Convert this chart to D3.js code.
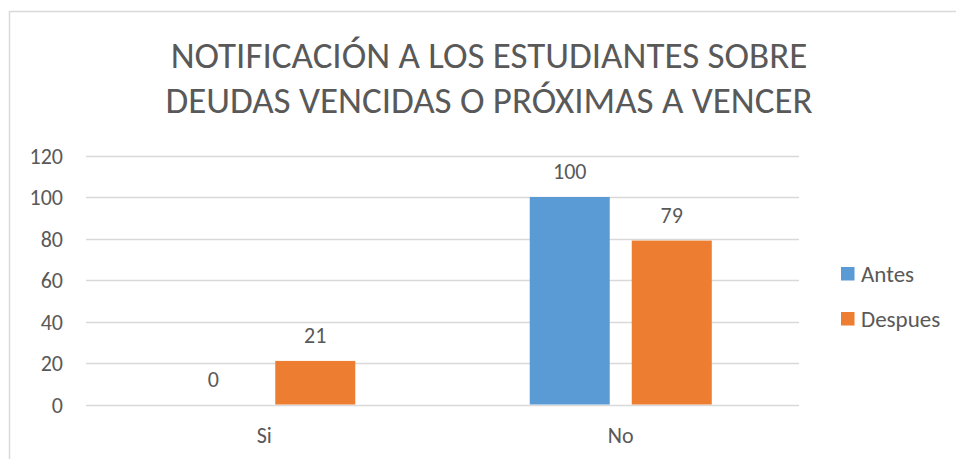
<!DOCTYPE html>
<html>
<head>
<meta charset="utf-8">
<script src="https://cdn.jsdelivr.net/npm/d3@7"></script>
<style>
  html, body { margin: 0; padding: 0; background: #fff; }
  svg { display: block; }
  text { font-family: Carlito, Calibri, Lato, "Open Sans", sans-serif; fill: #595959; }
</style>
</head>
<body>
<svg id="chart" width="956" height="459"></svg>
<script>
// Chart data
const categories = ["Si", "No"];
const seriesNames = ["Antes", "Despues"];
const antes = [0, 100];
const despues = [21, 79];
const yTicks = [0, 20, 40, 60, 80, 100, 120];
const titleLines = ["NOTIFICACIÓN A LOS ESTUDIANTES SOBRE", "DEUDAS VENCIDAS O PRÓXIMAS A VENCER"];

const colors = { Antes: "#5B9BD5", Despues: "#ED7D31" };
const values = { Antes: antes, Despues: despues };
const fontStack = 'Carlito, Calibri, Lato, "Open Sans", sans-serif';

const svg = d3.select("#chart");
const W = 956, H = 459;

// Outer chart frame
svg.append("rect")
  .attr("x", 9.5).attr("y", 11.5)
  .attr("width", W + 20).attr("height", H + 20)
  .attr("fill", "none").attr("stroke", "#D9D9D9").attr("stroke-width", 1.5);

// Title
svg.append("g").selectAll("text").data(titleLines).join("text")
  .attr("x", 489)
  .attr("y", (d, i) => 68 + i * 45)
  .attr("text-anchor", "middle")
  .attr("font-size", 37)
  .attr("font-weight", 300)
  .text(d => d);

// Scales
const plot = { left: 86, right: 799, top: 155.5, bottom: 404.5 };
const x0 = d3.scaleBand().domain(categories).range([plot.left, plot.right]);
const x1 = d3.scaleBand().domain(seriesNames).range([0, x0.bandwidth()])
  .paddingInner(0.2157).paddingOuter(0.855);
const y = d3.scaleLinear().domain([0, 120]).range([plot.bottom, plot.top]);

// Gridlines
svg.append("g").selectAll("line").data(yTicks).join("line")
  .attr("x1", plot.left).attr("x2", plot.right)
  .attr("y1", d => Math.round(y(d)) + 0.5).attr("y2", d => Math.round(y(d)) + 0.5)
  .attr("stroke", "#D9D9D9").attr("stroke-width", 1.5);

// Y axis labels
const yAxis = d3.axisLeft(y).tickValues(yTicks).tickSize(0).tickPadding(0);
const gy = svg.append("g").attr("transform", "translate(63,0)").call(yAxis);
gy.select(".domain").remove();
gy.selectAll("text").attr("font-size", 22).attr("fill", "#595959")
  .attr("font-family", fontStack)
  .attr("dy", "0.36em");

// X axis labels
const xAxis = d3.axisBottom(x0).tickSize(0).tickPadding(0);
const gx = svg.append("g").attr("transform", "translate(0,443)").call(xAxis);
gx.select(".domain").remove();
gx.selectAll("text").attr("font-size", 22).attr("fill", "#595959")
  .attr("font-family", fontStack)
  .attr("dy", 0);

// Bars and value labels
const rows = [];
categories.forEach((c, i) => seriesNames.forEach(s => rows.push({ cat: c, series: s, value: values[s][i] })));

svg.append("g").selectAll("rect").data(rows.filter(d => d.value > 0)).join("rect")
  .attr("x", d => x0(d.cat) + x1(d.series))
  .attr("y", d => y(d.value))
  .attr("width", x1.bandwidth())
  .attr("height", d => y(0) - y(d.value))
  .attr("fill", d => colors[d.series]);

svg.append("g").selectAll("text").data(rows).join("text")
  .attr("x", d => x0(d.cat) + x1(d.series) + x1.bandwidth() / 2)
  .attr("y", d => y(d.value) - 18)
  .attr("text-anchor", "middle")
  .attr("font-size", 22)
  .text(d => d.value);

// Legend
const legend = svg.append("g").selectAll("g").data(seriesNames).join("g")
  .attr("transform", (d, i) => `translate(841,${267 + i * 45})`);
legend.append("rect").attr("width", 13.5).attr("height", 13.5).attr("fill", d => colors[d]);
legend.append("text").attr("x", 20).attr("y", 14.5).attr("font-size", 23).text(d => d);
</script>
</body>
</html>
